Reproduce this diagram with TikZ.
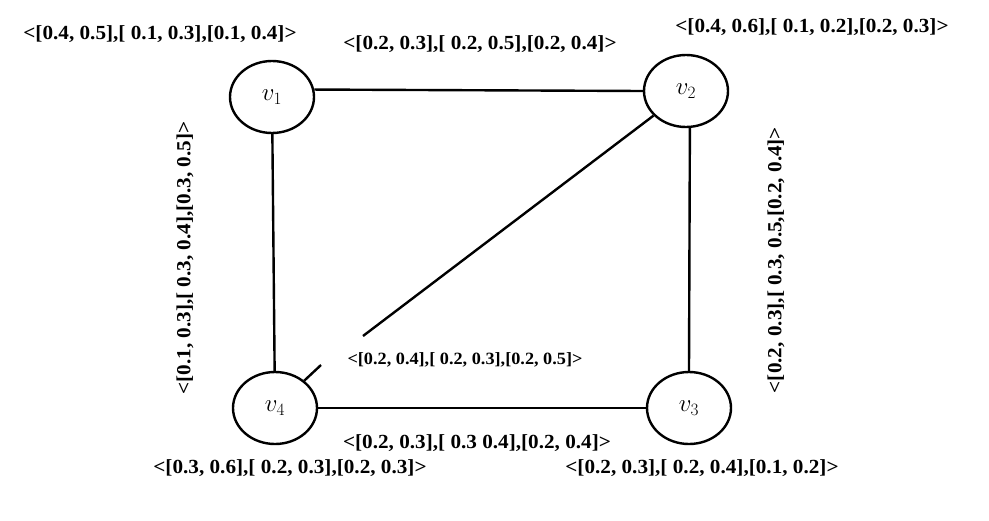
\documentclass[tikz,border=0pt]{standalone}
\usepackage{fontspec}
\setmainfont{Liberation Serif}[FakeStretch=1.06]
\usetikzlibrary{shapes.geometric}

\begin{document}
\begin{tikzpicture}[x=1pt, y=-1pt, line width=2.4pt,
        vertex/.style={ellipse, draw, minimum width=84pt, minimum height=72pt, inner sep=0pt,
            font=\fontsize{26}{28}\selectfont},
        weight/.style={inner sep=0pt, font=\bfseries\fontsize{20}{22}\selectfont},
        smallweight/.style={inner sep=0pt, font=\bfseries\fontsize{17.2}{19}\selectfont}]
        \useasboundingbox (0,0) rectangle (989,520);
        \node [vertex] (v1) at (272,97) {$v_1$};
        \node [vertex] (v2) at (686,91) {$v_2$};
        \node [vertex] (v3) at (689,408) {$v_3$};
        \node [vertex] (v4) at (275,408) {$v_4$};
        \coordinate (g1) at (363,336);
        \coordinate (g2) at (321,365);
        \draw (v1.10) -- (v2.180);
        \draw (v1) -- (v4);
        \draw (v2.-84) -- (v3.north);
        \draw (v4) -- (v3);
        \draw (v2) -- (g1);  % diagonal is broken near v4
        \draw (g2) -- (v4);
        \node [weight] (w1) at (160,34) {<[0.4, 0.5],[ 0.1, 0.3],[0.1, 0.4]>};
        \node [weight] (w2) at (812,27) {<[0.4, 0.6],[ 0.1, 0.2],[0.2, 0.3]>};
        \node [weight] (w3) at (702,468) {<[0.2, 0.3],[ 0.2, 0.4],[0.1, 0.2]>};
        \node [weight] (w4) at (290,468) {<[0.3, 0.6],[ 0.2, 0.3],[0.2, 0.3]>};
        \node [weight] (w12) at (480,44) {<[0.2, 0.3],[ 0.2, 0.5],[0.2, 0.4]>};
        \node [weight] (w34) at (477,443) {<[0.2, 0.3],[ 0.3 0.4],[0.2, 0.4]>};
        \node [smallweight] (w24) at (465,360) {<[0.2, 0.4],[ 0.2, 0.3],[0.2, 0.5]>};
        \node [weight, rotate=90] (w14) at (185,258) {<[0.1, 0.3],[ 0.3, 0.4],[0.3, 0.5]>};
        \node [weight, rotate=90] (w23) at (776,260) {<[0.2, 0.3],[ 0.3, 0.5,[0.2, 0.4]>};
\end{tikzpicture}
\end{document}
